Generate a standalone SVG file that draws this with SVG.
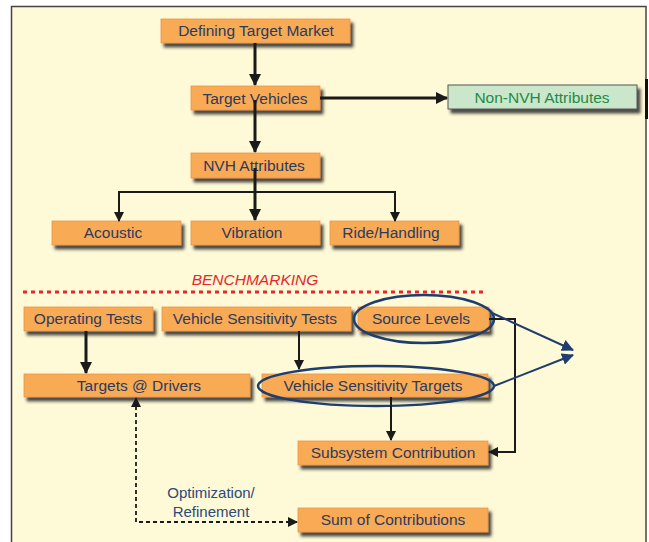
<svg xmlns="http://www.w3.org/2000/svg" width="649" height="542" viewBox="0 0 649 542">
<defs>
<filter id="sh" x="-10%" y="-30%" width="130%" height="180%">
<feDropShadow dx="3" dy="4" stdDeviation="1.8" flood-color="#2a2a2a" flood-opacity="0.85"/>
</filter>
<marker id="ah" markerUnits="userSpaceOnUse" markerWidth="12" markerHeight="12" viewBox="0 0 12 12" refX="11" refY="6" orient="auto">
<path d="M0,0 L12,6 L0,12 Z" fill="#1a1a1a"/>
</marker>
<marker id="ahs" markerUnits="userSpaceOnUse" markerWidth="10" markerHeight="10" viewBox="0 0 10 10" refX="9" refY="5" orient="auto">
<path d="M0,0 L10,5 L0,10 Z" fill="#1a1a1a"/>
</marker>
<marker id="ahb" markerUnits="userSpaceOnUse" markerWidth="12" markerHeight="12" viewBox="0 0 12 12" refX="11" refY="6" orient="auto">
<path d="M0,0 L12,6 L0,12 Z" fill="#1f3d6e"/>
</marker>
<marker id="ahsr" markerUnits="userSpaceOnUse" markerWidth="10" markerHeight="10" viewBox="0 0 10 10" refX="1" refY="5" orient="auto">
<path d="M10,0 L0,5 L10,10 Z" fill="#1a1a1a"/>
</marker>
</defs>
<style>
.box{fill:#f8aa55;stroke:#e8944a;stroke-width:0.8;filter:url(#sh)}
.gbox{fill:#cbe7cb;stroke:#555;stroke-width:1;filter:url(#sh)}
.t{font-family:"Liberation Sans",Arial,sans-serif;font-size:15.5px;fill:#2c3a5e;text-anchor:middle}
.gt{font-family:"Liberation Sans",Arial,sans-serif;font-size:15.5px;fill:#1e8a48;text-anchor:middle}
.c{fill:none;stroke:#1a1a1a}
.thick{stroke-width:3}
.thin{stroke-width:2}
.ell{fill:none;stroke:#1f3d6e;stroke-width:2.5}
</style>
<rect x="0" y="0" width="649" height="542" fill="#ffffff"/>
<rect x="11.5" y="6.5" width="634.5" height="545" fill="#fef9d6" stroke="#444" stroke-width="1.5"/>
<rect x="645" y="79" width="3" height="40" fill="#111"/>

<g id="n-defining"><rect class="box" x="161" y="19" width="189" height="24"/><text class="t" x="256" y="36">Defining Target Market</text></g>
<g id="n-targetvehicles"><rect class="box" x="191" y="86" width="129" height="24"/><text class="t" x="255" y="104">Target Vehicles</text></g>
<g id="n-nonnvh"><rect class="gbox" x="448" y="85" width="189" height="24"/><text class="gt" x="542" y="103">Non-NVH Attributes</text></g>
<g id="n-nvh"><rect class="box" x="191" y="153" width="129" height="25"/><text class="t" x="254" y="171">NVH Attributes</text></g>
<g id="n-acoustic"><rect class="box" x="52" y="221" width="129" height="24"/><text class="t" x="113" y="238">Acoustic</text></g>
<g id="n-vibration"><rect class="box" x="191" y="221" width="129" height="24"/><text class="t" x="252" y="238">Vibration</text></g>
<g id="n-ride"><rect class="box" x="330" y="221" width="129" height="24"/><text class="t" x="391" y="238">Ride/Handling</text></g>

<g id="benchmarking">
<text x="255" y="285" font-family="Liberation Sans, Arial, sans-serif" font-size="15.5" font-style="italic" fill="#e8262a" text-anchor="middle">BENCHMARKING</text>
<line x1="23" y1="292" x2="486" y2="292" stroke="#e8262a" stroke-width="3" stroke-dasharray="4 4"/>
</g>

<g id="n-operating"><rect class="box" x="24" y="307" width="129" height="24"/><text class="t" x="88" y="324">Operating Tests</text></g>
<g id="n-vstests"><rect class="box" x="162" y="307" width="189" height="24"/><text class="t" x="255" y="324">Vehicle Sensitivity Tests</text></g>
<g id="n-source"><rect class="box" x="358" y="307" width="131" height="24"/><text class="t" x="421" y="324">Source Levels</text><ellipse class="ell" cx="424" cy="319" rx="70" ry="24"/></g>
<g id="n-drivers"><rect class="box" x="24" y="374" width="226" height="23"/><text class="t" x="139" y="391">Targets @ Drivers</text></g>
<g id="n-vstargets"><rect class="box" x="262" y="374" width="226" height="23"/><text class="t" x="373" y="391">Vehicle Sensitivity Targets</text><ellipse class="ell" cx="376" cy="386" rx="118" ry="20"/></g>
<g id="n-subsystem"><rect class="box" x="298" y="441" width="190" height="24"/><text class="t" x="393" y="458">Subsystem Contribution</text></g>
<g id="n-sum"><rect class="box" x="298" y="508" width="190" height="24"/><text class="t" x="393" y="525">Sum of Contributions</text></g>

<g id="connectors">
<line class="c thick" x1="255" y1="43" x2="255" y2="85" marker-end="url(#ah)"/>
<line class="c thick" x1="320" y1="98" x2="447" y2="98" marker-end="url(#ah)"/>
<line class="c thick" x1="255" y1="100" x2="255" y2="152" marker-end="url(#ah)"/>
<line class="c thick" x1="255" y1="168" x2="255" y2="220" marker-end="url(#ah)"/>
<path class="c thin" d="M119,221 V192 H395 V221" marker-start="url(#ahsr)" marker-end="url(#ahs)"/>
<line class="c thick" x1="86" y1="331" x2="86" y2="373" marker-end="url(#ah)"/>
<line class="c thin" x1="299" y1="331" x2="299" y2="369" marker-end="url(#ahs)"/>
<line class="c thin" x1="391" y1="397" x2="391" y2="440" marker-end="url(#ahs)"/>
<path class="c" stroke-width="2" d="M489,319 H515 V452 H489" marker-end="url(#ahs)"/>
<line x1="492" y1="313" x2="573" y2="350" stroke="#1f3d6e" stroke-width="2" marker-end="url(#ahb)"/>
<line x1="494" y1="386" x2="573" y2="355" stroke="#1f3d6e" stroke-width="2" marker-end="url(#ahb)"/>
<path class="c" stroke-width="1.8" stroke-dasharray="4 3" d="M297,522 H136 V398" marker-start="url(#ahsr)" marker-end="url(#ahs)"/>
<text x="211" y="498" font-family="Liberation Sans, Arial, sans-serif" font-size="15" fill="#2c4a7a" text-anchor="middle">Optimization/</text>
<text x="211" y="517" font-family="Liberation Sans, Arial, sans-serif" font-size="15" fill="#2c4a7a" text-anchor="middle">Refinement</text>
</g>
</svg>
